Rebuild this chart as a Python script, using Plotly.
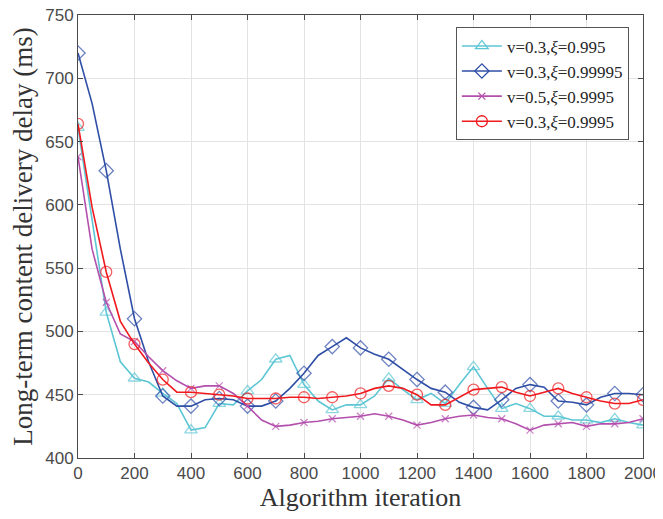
import plotly.graph_objects as go

iterations = list(range(0, 2001, 50))

cyan_vals = [661, 588, 515, 476, 463, 460, 451, 443, 422, 424,
             443, 442, 453, 462, 478, 481, 458, 445, 438, 442,
             442, 449, 463, 454, 446, 451, 443, 458, 472, 455,
             439, 443, 439, 433, 433, 430, 430, 428, 431, 428, 426]
blue_vals = [720, 680, 627, 565, 510, 476, 449, 441, 441, 446,
             447, 446, 441, 441, 445, 455, 467, 481, 488, 495,
             487, 482, 478, 470, 462, 455, 452, 444, 440, 438,
             446, 455, 458, 456, 445, 444, 442, 448, 451, 451, 450]
magenta_vals = [638, 565, 523, 498, 492, 480, 469, 461, 455, 457,
                457, 451, 441, 430, 425, 426, 428, 429, 431, 432,
                433, 435, 433, 430, 426, 428, 431, 433, 434, 432,
                431, 427, 422, 426, 427, 428, 425, 427, 427, 428, 431]
red_vals = [664, 598, 547, 508, 490, 475, 462, 452, 452, 451,
            450, 449, 447, 447, 447, 448, 448, 447, 448, 449,
            451, 455, 457, 455, 450, 442, 442, 448, 454, 455,
            456, 452, 449, 452, 455, 451, 448, 445, 443, 443, 446]

series_names = ["v=0.3,<i>ξ</i>=0.995", "v=0.3,<i>ξ</i>=0.99995",
                "v=0.5,<i>ξ</i>=0.9995", "v=0.3,<i>ξ</i>=0.9995"]
series_vals = [cyan_vals, blue_vals, magenta_vals, red_vals]
colors = ["#5cc6d4", "#2f4ea6", "#b34fad", "#f0191e"]
symbols = ["triangle-up-open", "diamond-open", "x-thin-open", "circle-open"]
msizes = [11, 11, 7, 11]
marker_step = 100

fig = go.Figure()
for name, vals, col, sym, ms in zip(series_names, series_vals, colors, symbols, msizes):
    sizes = [ms if it % marker_step == 0 else 0 for it in iterations]
    fig.add_trace(go.Scatter(
        x=iterations, y=vals, mode="lines+markers", showlegend=False,
        line=dict(color=col, width=1.6),
        marker=dict(symbol=sym, size=sizes, color=col, line=dict(color=col, width=1.3)),
    ))
    fig.add_trace(go.Scatter(
        x=[None], y=[None], mode="lines+markers", name=name,
        line=dict(color=col, width=1.6),
        marker=dict(symbol=sym, size=ms, color=col, line=dict(color=col, width=1.3)),
    ))

axis_common = dict(
    showline=True, linecolor="#4a4a4a", linewidth=1, mirror="ticks",
    ticks="inside", ticklen=5, tickcolor="#4a4a4a",
    showgrid=True, gridcolor="#e3e3e3", gridwidth=1, zeroline=False,
    automargin=False, ticklabeloverflow="allow",
    tickfont=dict(family="Liberation Sans, Arial", size=17, color="#4a4a4a"),
)

fig.update_layout(
    width=655, height=511,
    margin=dict(l=70, r=20, t=7, b=61, pad=0),
    paper_bgcolor="white", plot_bgcolor="white",
    xaxis=dict(range=[0, 2000], dtick=200, tick0=0,
               title=dict(text="Algorithm iteration", standoff=4,
                          font=dict(family="Liberation Serif, Times New Roman", size=26, color="#333333")),
               **axis_common),
    yaxis=dict(range=[400, 750], dtick=50, tick0=400,
               title=dict(text="Long-term content delivery delay (ms)", standoff=6,
                          font=dict(family="Liberation Serif, Times New Roman", size=27, color="#333333")),
               **axis_common),
    legend=dict(x=0.975, y=0.972, xanchor="right", yanchor="top",
                bgcolor="white", bordercolor="#555555", borderwidth=1,
                font=dict(family="Liberation Serif, Times New Roman", size=17, color="#262626"),
                tracegroupgap=0, itemwidth=40),
)

fig.write_html("out.html")
